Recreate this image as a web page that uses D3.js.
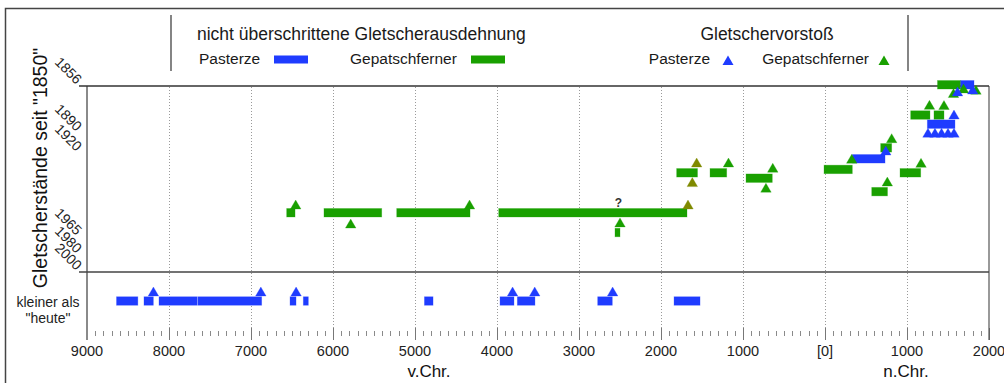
<!DOCTYPE html>
<html><head><meta charset="utf-8">
<script src="https://cdn.jsdelivr.net/npm/d3@7"></script>
<style>body{margin:0;background:#fff}svg{display:block;font-family:"Liberation Sans",Arial,sans-serif}</style>
</head><body><svg id="c" width="1004" height="383"></svg>
<script>
// ---- data ----
const yLevels = [1856, 1890, 1920, 1965, 1980, 2000];
const yLabels = ["1856", "1890", "1920", "1965", "1980", "2000"];
const xTicks = [-9000, -8000, -7000, -6000, -5000, -4000, -3000, -2000, -1000, 0, 1000, 2000];
const xTickLabels = ["9000", "8000", "7000", "6000", "5000", "4000", "3000", "2000", "1000", "[0]", "1000", "2000"];
// not exceeded extent: [start year, end year, stand level]
const gepatschBars = [
  [-6565, -6463, 1952], [-6110, -5406, 1952], [-5223, -4329, 1952], [-3979, -1683, 1952],
  [-2561, -2500, 1962.6], [-1809, -1555, 1930.6], [-1402, -1199, 1930.6], [-963, -643, 1933.5],
  [-12, 333, 1928.8], [570, 762, 1940.7], [679, 813, 1912.2], [915, 1167, 1930.6],
  [1045, 1280, 1877], [1329, 1451, 1877], [1372, 1655, 1855.1]
];
const pasterzeBars = [[333, 732, 1923.1], [1248, 1585, 1883.6], [1655, 1817, 1855.1]];
// smaller than today: [start, end]
const pasterzeSmaller = [
  [-8640, -8380], [-8305, -8191], [-8122, -7655], [-7646, -6870], [-6524, -6451], [-6362, -6301],
  [-4885, -4780], [-3963, -3793], [-3752, -3537], [-2772, -2594], [-1841, -1524]
];
const pasterzeSmallerAdvances = [-8190, -6880, -6450, -3810, -3540, -2590];
// advances: [year, stand level]
const gepatschAdvances = [
  [-6455, 1950], [-5784, 1960.2], [-4335, 1950], [-2500, 1959.6], [-1177, 1927.5], [-637, 1930.3],
  [-720, 1941], [326, 1925.5], [813, 1904.5], [760, 1937.7], [1171, 1927.7], [1274, 1872.9],
  [1451, 1873], [1567, 1864.3], [1689, 1861], [1841, 1862]
];
const gepatschAdvancesOlive = [[-1671, 1950], [-1565, 1927.5], [-1618, 1938]];
const pasterzeAdvances = [
  [741, 1921.1], [1573, 1879.9], [1256, 1896.4], [1341, 1896.4], [1421, 1896.4], [1500, 1896.4],
  [1573, 1896.4], [1616, 1863.2], [1801, 1861.8]
];
const questionMark = [-2520, 1947];

// ---- drawing ----
const BLUE = "#1f3cff", GREEN = "#19a000", OLIVE = "#7f8a00", DARK = "#333", GRAY = "#8a8a8a";
const svg = d3.select("#c");
svg.append("rect").attr("width", 1004).attr("height", 383).attr("fill", "#fff");

const x = d3.scaleLinear().domain([-9000, 2000]).range([87, 989]);
const y = d3.scaleLinear().domain(yLevels).range([86, 133, 153, 237, 255, 272]);
const yRow = d3.scaleOrdinal().domain(["kleiner"]).range([301]);

// outer frame
svg.append("path").attr("d", "M5.5,400V8.5H1004").attr("fill", "none").attr("stroke", "#444").attr("stroke-width", 1.5);
// legend separators
svg.append("line").attr("x1", 171).attr("x2", 171).attr("y1", 15).attr("y2", 71).attr("stroke", DARK).attr("stroke-width", 1.2);
svg.append("line").attr("x1", 908).attr("x2", 908).attr("y1", 15).attr("y2", 71).attr("stroke", DARK).attr("stroke-width", 1.2);

// grid lines
const grid = svg.append("g");
grid.selectAll("line").data(xTicks.filter(d => d > -9000 && d < 2000)).join("line")
  .attr("x1", d => Math.round(x(d)) + 0.5).attr("x2", d => Math.round(x(d)) + 0.5)
  .attr("y1", 87).attr("y2", 333).attr("stroke", "#9a9a9a").attr("stroke-dasharray", "1,2");

// minor ticks
const minor = d3.range(-9000, 2001, 100).filter(d => d % 1000 !== 0);
svg.append("g").selectAll("line").data(minor).join("line")
  .attr("x1", d => Math.round(x(d)) + 0.5).attr("x2", d => Math.round(x(d)) + 0.5)
  .attr("y1", 331).attr("y2", 336).attr("stroke", "#8a8a8a");
svg.append("g").selectAll("line").data(xTicks).join("line")
  .attr("x1", d => Math.round(x(d)) + 0.5).attr("x2", d => Math.round(x(d)) + 0.5)
  .attr("y1", 328).attr("y2", 340).attr("stroke", "#777");

// frame lines of plot
svg.append("line").attr("x1", 87).attr("x2", 87).attr("y1", 86).attr("y2", 340).attr("stroke", GRAY).attr("stroke-width", 2);
svg.append("line").attr("x1", 989).attr("x2", 989).attr("y1", 86).attr("y2", 340).attr("stroke", "#555").attr("stroke-width", 1.2);
svg.append("line").attr("x1", 79).attr("x2", 989).attr("y1", y(1856)).attr("y2", y(1856)).attr("stroke", DARK).attr("stroke-width", 1.5);
svg.append("line").attr("x1", 79).attr("x2", 989).attr("y1", y(2000)).attr("y2", y(2000)).attr("stroke", "#444").attr("stroke-width", 1.5);

// x tick labels
svg.append("g").selectAll("text").data(xTicks).join("text")
  .attr("x", d => x(d)).attr("y", 356).attr("text-anchor", "middle")
  .attr("font-size", 14.5).attr("fill", "#222").text((d, i) => xTickLabels[i]);
svg.append("text").attr("x", 429).attr("y", 377).attr("text-anchor", "middle").attr("font-size", 17).attr("fill", "#111").text("v.Chr.");
svg.append("text").attr("x", 906).attr("y", 377).attr("text-anchor", "middle").attr("font-size", 17).attr("fill", "#111").text("n.Chr.");

// y tick labels (rotated)
svg.append("g").selectAll("text").data(yLevels).join("text")
  .attr("transform", d => `translate(76,${y(d) - 1}) rotate(45)`)
  .attr("text-anchor", "end").attr("font-size", 14).attr("fill", "#222")
  .text((d, i) => yLabels[i]);
svg.append("text").attr("transform", "translate(47,168) rotate(-90)").attr("text-anchor", "middle")
  .attr("font-size", 19.5).attr("fill", "#111").text("Gletscherstände seit \"1850\"");
svg.append("text").attr("x", 48).attr("y", 307).attr("text-anchor", "middle").attr("font-size", 14).attr("fill", "#222").text("kleiner als");
svg.append("text").attr("x", 48).attr("y", 323).attr("text-anchor", "middle").attr("font-size", 14).attr("fill", "#222").text("\"heute\"");

// bars
const BH = 8.5;
function bars(data, color, yFn) {
  svg.append("g").selectAll("rect").data(data).join("rect")
    .attr("x", d => x(d[0])).attr("width", d => x(d[1]) - x(d[0]))
    .attr("y", d => yFn(d) - BH / 2).attr("height", BH)
    .attr("fill", color).attr("stroke", color).attr("stroke-opacity", 0.35).attr("stroke-width", 0.8);
}
bars(gepatschBars, GREEN, d => y(d[2]));
bars(pasterzeBars, BLUE, d => y(d[2]));
bars(pasterzeSmaller, BLUE, d => yRow("kleiner"));

// triangles (base at level)
const TW = 10.5, TH = 9;
function tri(data, color, cx, base) {
  svg.append("g").selectAll("path").data(data).join("path")
    .attr("d", d => { const X = cx(d), B = base(d); return `M${X - TW / 2},${B}L${X},${B - TH}L${X + TW / 2},${B}Z`; })
    .attr("fill", color).attr("stroke", color).attr("stroke-opacity", 0.35).attr("stroke-width", 0.8);
}
tri(pasterzeSmallerAdvances, BLUE, d => x(d), d => yRow("kleiner") - 5);
tri(gepatschAdvances, GREEN, d => x(d[0]), d => y(d[1]));
tri(gepatschAdvancesOlive, OLIVE, d => x(d[0]), d => y(d[1]));
tri(pasterzeAdvances, BLUE, d => x(d[0]), d => y(d[1]));

svg.append("text").attr("x", x(questionMark[0])).attr("y", y(questionMark[1]) + 3.5).attr("text-anchor", "middle")
  .attr("font-size", 12).attr("font-weight", "bold").attr("fill", "#333").text("?");

// legend
const lg = svg.append("g").attr("fill", "#1a1a1a");
lg.append("text").attr("x", 197).attr("y", 40).attr("font-size", 17.5).text("nicht überschrittene Gletscherausdehnung");
lg.append("text").attr("x", 767).attr("y", 40).attr("font-size", 17.5).attr("text-anchor", "middle").text("Gletschervorstoß");
lg.append("text").attr("x", 199).attr("y", 64).attr("font-size", 15.5).text("Pasterze");
lg.append("rect").attr("x", 274).attr("y", 55.5).attr("width", 34).attr("height", 8).attr("fill", BLUE);
lg.append("text").attr("x", 350).attr("y", 64).attr("font-size", 15.5).text("Gepatschferner");
lg.append("rect").attr("x", 471).attr("y", 55.5).attr("width", 34).attr("height", 8).attr("fill", GREEN);
lg.append("text").attr("x", 710).attr("y", 64).attr("font-size", 15.5).attr("text-anchor", "end").text("Pasterze");
lg.append("path").attr("d", `M722.5,65L728,55.5L733.5,65Z`).attr("fill", BLUE);
lg.append("text").attr("x", 869).attr("y", 64).attr("font-size", 15.5).attr("text-anchor", "end").text("Gepatschferner");
lg.append("path").attr("d", `M878.5,65L884,55.5L889.5,65Z`).attr("fill", GREEN);
</script></body></html>
